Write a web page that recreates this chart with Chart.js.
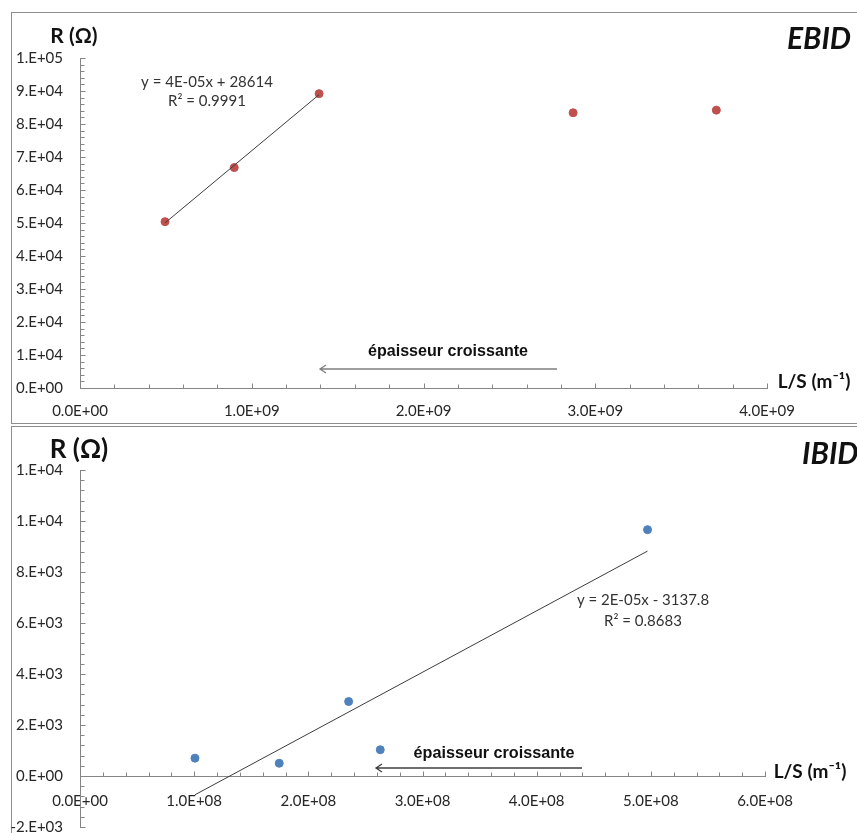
<!DOCTYPE html>
<html lang="fr">
    <head>
        <meta charset="UTF-8">
        <title>R en fonction de L/S</title>
        <script src="https://cdn.jsdelivr.net/npm/chart.js"></script>
        <style>
            body { margin: 0; width: 857px; height: 833px; overflow: hidden; background: #fff; position: relative; }
            .frame { position: absolute; left: 11px; width: 900px; border: 1px solid #8e8e8e; }
            #frame-top { top: 12px; height: 410px; }
            #frame-bottom { top: 426px; height: 500px; }
            canvas { position: absolute; left: 0; }
            #chart-ebid { top: 0; }
            #chart-ibid { top: 426px; }
        </style>
    </head>
    <body>
        <div class="frame" id="frame-top"></div>
        <div class="frame" id="frame-bottom"></div>
        <canvas id="chart-ebid" width="857" height="423"></canvas>
        <!-- plus haut que la page : le bas est coupe, comme sur la capture -->
        <canvas id="chart-ibid" width="857" height="427"></canvas>

        <script>
            // EBID : L/S (m-1) et R (ohm)
            const ebidLS = [0.495e9, 0.898e9, 1.392e9, 2.871e9, 3.705e9];
            const ebidR = [50400, 66800, 89200, 83400, 84200];
            const ebidFitCount = 3; // la droite ne passe que par les 3 premiers points

            // IBID
            const ibidLS = [1.007e8, 1.745e8, 2.353e8, 2.630e8, 4.971e8];
            const ibidR = [700, 500, 2920, 1030, 9660];
            const ibidFitCount = 5;

            const ebidXTicks = [0, 1e9, 2e9, 3e9, 4e9];
            const ebidYTicks = [0, 1e4, 2e4, 3e4, 4e4, 5e4, 6e4, 7e4, 8e4, 9e4, 1e5];
            const ibidXTicks = [0, 1e8, 2e8, 3e8, 4e8, 5e8, 6e8];
            const ibidYTicks = [-2000, 0, 2000, 4000, 6000, 8000, 10000, 12000];

            const ebidEquation = ['y = 4E-05x + 28614', 'R² = 0.9991'];
            const ibidEquation = ['y = 2E-05x - 3137.8', 'R² = 0.8683'];

            const AXIS = '#868686';
            const TXT = '#262626';
            const FONT = 'Lato, "Liberation Sans", sans-serif';

            // format excel 0.E+00 / 0.0E+00
            function sci(v, d) {
                const parts = v.toExponential(d).split('e');
                const e = parseInt(parts[1], 10);
                const m = d === 0 ? parts[0] + '.' : parts[0];
                return m + 'E' + (e < 0 ? '-' : '+') + String(Math.abs(e)).padStart(2, '0');
            }

            // regression lineaire (comme la courbe de tendance d'excel)
            function trend(xs, ys) {
                const n = xs.length;
                const mx = xs.reduce((a, b) => a + b, 0) / n;
                const my = ys.reduce((a, b) => a + b, 0) / n;
                let sxy = 0, sxx = 0;
                for (let i = 0; i < n; i++) {
                    sxy += (xs[i] - mx) * (ys[i] - my);
                    sxx += (xs[i] - mx) * (xs[i] - mx);
                }
                const a = sxy / sxx, b = my - a * mx;
                const x0 = Math.min(...xs), x1 = Math.max(...xs);
                return [{x: x0, y: a * x0 + b}, {x: x1, y: a * x1 + b}];
            }

            const toPoints = (xs, ys) => xs.map((x, i) => ({x: x, y: ys[i]}));

            // petites graduations a l'interieur, comme dans excel
            const tickMarks = {
                id: 'tickMarks',
                afterDraw(chart, args, o) {
                    const {ctx, chartArea, scales: {x, y}} = chart;
                    const ax = Math.round(chartArea.left) + 0.5;
                    const ay = Math.round(y.getPixelForValue(0)) + 0.5;
                    ctx.save();
                    ctx.strokeStyle = AXIS;
                    ctx.lineWidth = 1;
                    ctx.beginPath();
                    for (let i = 0; i * o.yMinor <= y.max - y.min + 1e-6; i++) {
                        const v = y.min + i * o.yMinor;
                        const len = Math.abs(v / o.yMajor - Math.round(v / o.yMajor)) < 1e-6 ? 5 : 4;
                        const py = Math.round(y.getPixelForValue(v)) + 0.5;
                        ctx.moveTo(ax, py);
                        ctx.lineTo(ax + len, py);
                    }
                    for (let i = 0; i * o.xMinor <= x.max - x.min + 1e-6; i++) {
                        const v = x.min + i * o.xMinor;
                        const len = Math.abs(v / o.xMajor - Math.round(v / o.xMajor)) < 1e-6 ? 5 : 4;
                        const px = Math.round(x.getPixelForValue(v)) + 0.5;
                        ctx.moveTo(px, ay);
                        ctx.lineTo(px, ay - len);
                    }
                    ctx.stroke();
                    ctx.restore();
                }
            };

            // titres, equation, fleche
            const labels = {
                id: 'labels',
                afterDraw(chart, args, o) {
                    const ctx = chart.ctx;
                    ctx.save();
                    ctx.textBaseline = 'middle';
                    o.texts.forEach(t => {
                        ctx.font = t.font;
                        ctx.fillStyle = t.color || TXT;
                        ctx.textAlign = t.align || 'center';
                        if (t.maxWidth) ctx.fillText(t.text, t.x, t.y, t.maxWidth);
                        else ctx.fillText(t.text, t.x, t.y);
                    });
                    const a = o.arrow;
                    ctx.strokeStyle = a.color;
                    ctx.lineWidth = 1.3;
                    ctx.beginPath();
                    ctx.moveTo(a.x2, a.y);
                    ctx.lineTo(a.x1, a.y);
                    ctx.moveTo(a.x1 + 6, a.y - 4);
                    ctx.lineTo(a.x1, a.y);
                    ctx.lineTo(a.x1 + 6, a.y + 4);
                    ctx.stroke();
                    ctx.restore();
                }
            };

            function makeChart(id, cfg) {
                return new Chart(document.getElementById(id), {
                    type: 'scatter',
                    data: {
                        datasets: [{
                            data: toPoints(cfg.xs, cfg.ys),
                            backgroundColor: cfg.color,
                            borderColor: cfg.color,
                            pointRadius: 4,
                            pointHoverRadius: 4,
                            order: 2
                        }, {
                            type: 'line',
                            data: trend(cfg.xs.slice(0, cfg.fit), cfg.ys.slice(0, cfg.fit)),
                            borderColor: '#3c3c3c',
                            borderWidth: 1,
                            pointRadius: 0,
                            fill: false,
                            order: 1
                        }]
                    },
                    options: {
                        responsive: false,
                        animation: false,
                        devicePixelRatio: 1,
                        layout: {padding: cfg.padding},
                        plugins: {
                            legend: {display: false},
                            tooltip: {enabled: false},
                            tickMarks: cfg.marks,
                            labels: cfg.labels
                        },
                        scales: {
                            x: {
                                type: 'linear',
                                position: cfg.xPosition,
                                min: cfg.xTicks[0],
                                max: cfg.xTicks[cfg.xTicks.length - 1],
                                afterBuildTicks: s => { s.ticks = cfg.xTicks.map(v => ({value: v})); },
                                afterFit: s => { s.height = cfg.xHeight; },
                                grid: {display: false, drawTicks: false},
                                border: {display: true, color: AXIS, width: 1},
                                ticks: {
                                    callback: v => sci(v, 1),
                                    color: TXT,
                                    font: {family: FONT, size: 15},
                                    padding: cfg.xPad,
                                    maxRotation: 0,
                                    autoSkip: false
                                }
                            },
                            y: {
                                type: 'linear',
                                min: cfg.yTicks[0],
                                max: cfg.yTicks[cfg.yTicks.length - 1],
                                afterBuildTicks: s => { s.ticks = cfg.yTicks.map(v => ({value: v})); },
                                afterFit: s => { s.width = 80; },
                                grid: {display: false, drawTicks: false},
                                border: {display: true, color: AXIS, width: 1},
                                ticks: {
                                    callback: v => sci(v, 0),
                                    color: TXT,
                                    font: {family: FONT, size: 15},
                                    padding: 17,
                                    autoSkip: false
                                }
                            }
                        }
                    },
                    plugins: [tickMarks, labels]
                });
            }

            makeChart('chart-ebid', {
                xs: ebidLS, ys: ebidR, fit: ebidFitCount, color: '#C0504D',
                xTicks: ebidXTicks, yTicks: ebidYTicks,
                xPosition: 'bottom', xHeight: 35, xPad: 14,
                padding: {left: 0, right: 90, top: 58, bottom: 0},
                marks: {xMinor: 2e8, xMajor: 1e9, yMinor: 2000, yMajor: 10000},
                labels: {
                    texts: [
                        {text: 'R (Ω)', x: 74, y: 36, font: 'bold 21px ' + FONT, color: '#111'},
                        {text: 'EBID', x: 819, y: 39, font: 'italic bold 30px ' + FONT, color: '#111'},
                        {text: 'L/S (m⁻¹)', x: 814, y: 382, font: 'bold 19px ' + FONT, color: '#111'},
                        {text: 'épaisseur croissante', x: 448, y: 351, font: 'bold 17px "Liberation Sans", sans-serif', maxWidth: 160, color: '#111'},
                        {text: ebidEquation[0], x: 207, y: 82, font: '15px ' + FONT, color: '#333'},
                        {text: ebidEquation[1], x: 207, y: 101, font: '15px ' + FONT, color: '#333'}
                    ],
                    arrow: {x1: 320, x2: 557, y: 369, color: '#7f7f7f'}
                }
            });

            makeChart('chart-ibid', {
                xs: ibidLS, ys: ibidR, fit: ibidFitCount, color: '#4F81BD',
                xTicks: ibidXTicks, yTicks: ibidYTicks,
                xPosition: {y: 0}, xHeight: 0, xPad: 16,
                padding: {left: 0, right: 92, top: 44, bottom: 7},
                marks: {xMinor: 2e7, xMajor: 1e8, yMinor: 400, yMajor: 2000},
                labels: {
                    texts: [
                        {text: 'R (Ω)', x: 79, y: 24, font: 'bold 26px ' + FONT, color: '#111'},
                        {text: 'IBID', x: 802, y: 28, font: 'italic bold 30px ' + FONT, color: '#111', align: 'left'},
                        {text: 'L/S (m⁻¹)', x: 810, y: 346, font: 'bold 19px ' + FONT, color: '#111'},
                        {text: 'épaisseur croissante', x: 494, y: 327, font: 'bold 17px "Liberation Sans", sans-serif', maxWidth: 161, color: '#111'},
                        {text: ibidEquation[0], x: 643, y: 174, font: '15px ' + FONT, color: '#333'},
                        {text: ibidEquation[1], x: 643, y: 195, font: '15px ' + FONT, color: '#333'}
                    ],
                    arrow: {x1: 376, x2: 582, y: 342, color: '#404040'}
                }
            });
        </script>
    </body>
</html>
